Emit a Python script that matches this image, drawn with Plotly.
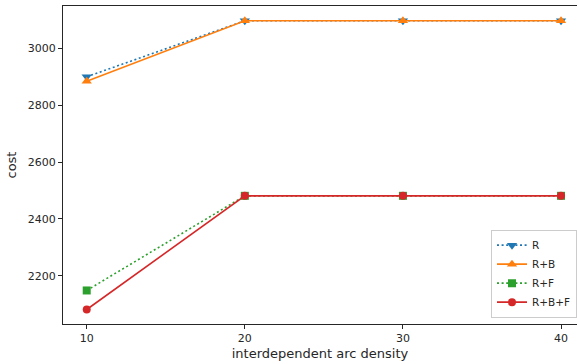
import plotly.graph_objects as go

density = [10, 20, 30, 40]
cost_R = [2900, 3097, 3097, 3097]
cost_RB = [2884, 3097, 3097, 3097]
cost_RF = [2148, 2481, 2481, 2481]
cost_RBF = [2081, 2481, 2481, 2481]
y_ticks = [2200, 2400, 2600, 2800, 3000]

series = [
    ("R", cost_R, "#1f77b4", "2px,2.6px", "triangle-down", 9),
    ("R+B", cost_RB, "#ff7f0e", "solid", "triangle-up", 9),
    ("R+F", cost_RF, "#2ca02c", "2px,2.6px", "square", 8),
    ("R+B+F", cost_RBF, "#d62728", "solid", "circle", 8),
]

fig = go.Figure()
for name, ys, color, dash, sym, msize in series:
    fig.add_trace(go.Scatter(
        x=density, y=ys, name=name, mode="lines+markers",
        line=dict(color=color, dash=dash, width=1.6),
        marker=dict(symbol=sym, size=msize, color=color),
    ))

font = dict(family="DejaVu Sans", size=11, color="#262626")
fig.update_layout(
    width=577, height=364,
    margin=dict(l=63, r=0, t=6, b=40),
    paper_bgcolor="white", plot_bgcolor="white",
    font=font,
    showlegend=True,
    legend=dict(x=1.0, y=0.02, xanchor="right", yanchor="bottom",
                bordercolor="#cccccc", borderwidth=1, bgcolor="white",
                font=dict(family="DejaVu Sans", size=10.5, color="#262626"),
                tracegroupgap=0, itemwidth=30),
)
fig.update_xaxes(
    range=[8.5, 41.01], tickvals=density, ticks="outside", ticklen=4,
    tickcolor="#262626", showline=True, linecolor="#262626", linewidth=1,
    mirror=True, showgrid=False, zeroline=False,
    title=dict(text="interdependent arc density", standoff=4),
)
fig.update_yaxes(
    range=[2030, 3149], tickvals=y_ticks, ticks="outside", ticklen=4,
    tickcolor="#262626", showline=True, linecolor="#262626", linewidth=1,
    mirror=False, showgrid=False, zeroline=False,
    title=dict(text="cost", standoff=8),
)
fig.write_html("out.html", config={"displayModeBar": False},
               post_script="document.body.style.margin='0';document.body.style.overflow='hidden';")
